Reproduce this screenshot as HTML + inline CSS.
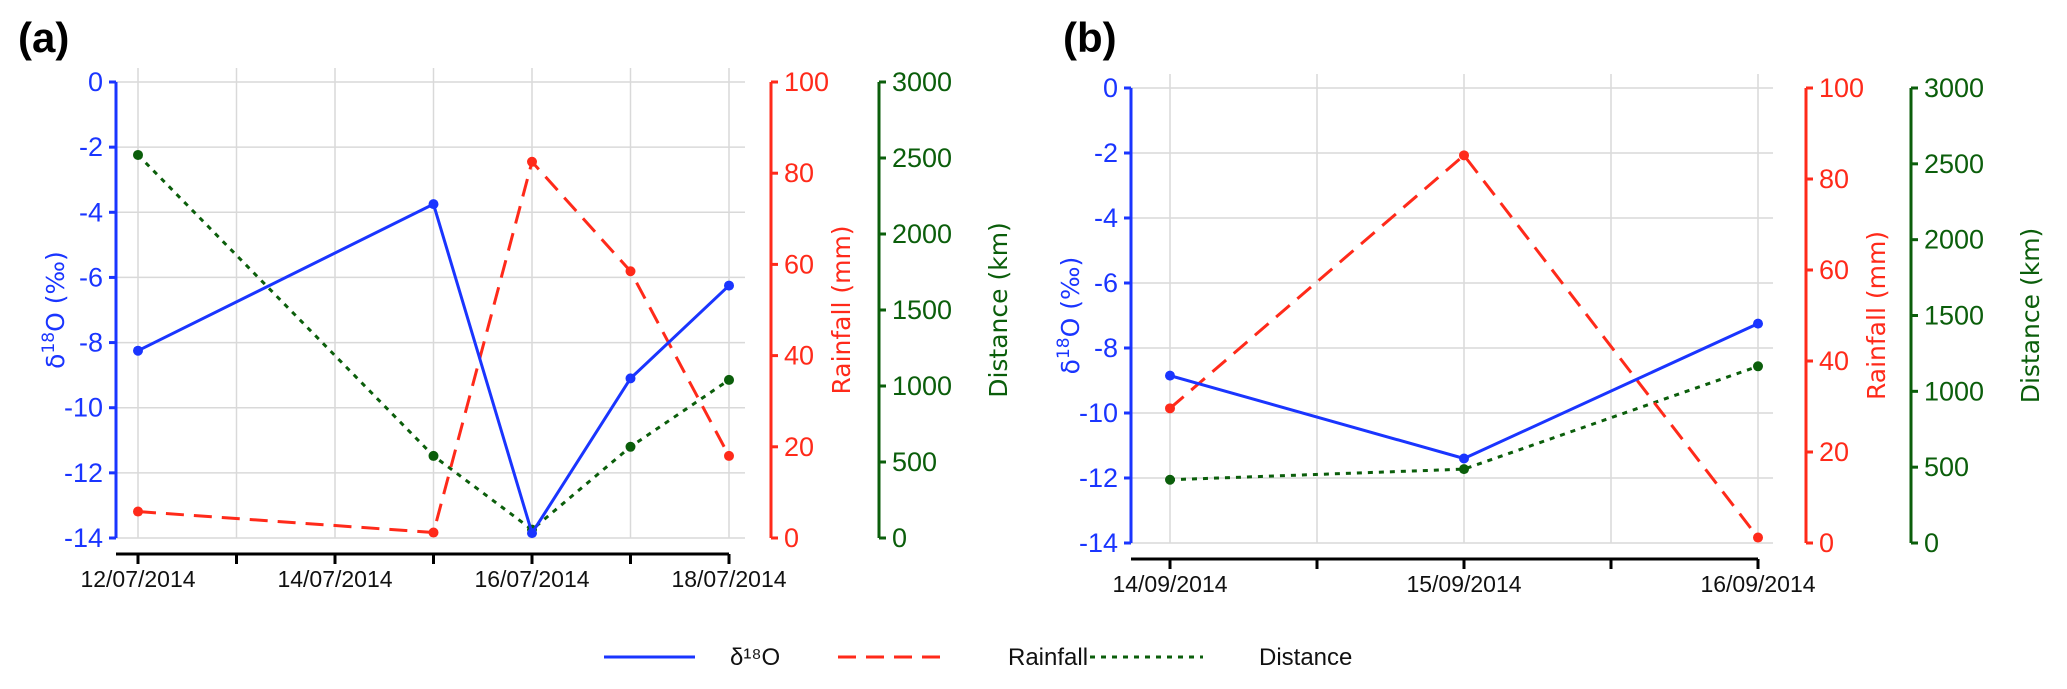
<!DOCTYPE html>
<html><head><meta charset="utf-8"><style>
body{margin:0;background:#fff;}
svg{display:block;font-family:"Liberation Sans",Arial,sans-serif;}
.tk{font-family:"Liberation Sans Narrow","Liberation Sans",sans-serif;}
.ti{font-family:"DejaVu Sans","Liberation Sans",sans-serif;}
</style></head><body>
<svg id="chart" width="2067" height="689" viewBox="0 0 2067 689" xmlns="http://www.w3.org/2000/svg"></svg>
<script>
// Panel (a) data
const datesA = [12, 15, 16, 17, 18];
const d18oA = [-8.25, -3.75, -13.85, -9.1, -6.25];
const rainA = [5.8, 1.2, 82.5, 58.5, 18];
const distA = [2520, 540, 55, 600, 1040];
const xTickLabelsA = ["12/07/2014", "14/07/2014", "16/07/2014", "18/07/2014"];
const xTickDaysA = [12, 14, 16, 18];
// Panel (b) data
const datesB = [14, 15, 16];
const d18oB = [-8.85, -11.4, -7.25];
const rainB = [29.6, 85.2, 1.2];
const distB = [417, 487, 1165];
const xTickLabelsB = ["14/09/2014", "15/09/2014", "16/09/2014"];
const xTickDaysB = [14, 15, 16];
// Axis ticks
const d18oTicks = [0, -2, -4, -6, -8, -10, -12, -14];
const rainTicks = [0, 20, 40, 60, 80, 100];
const distTicks = [0, 500, 1000, 1500, 2000, 2500, 3000];

const BLUE = "#1a35ff", RED = "#ff2a1a", GREEN = "#0b5e0b", GRID = "#d9d9d9";
const svg = document.getElementById('chart');
const NS = "http://www.w3.org/2000/svg";
function mk(tag, attrs, parent, text) {
  const e = document.createElementNS(NS, tag);
  for (const k in attrs) e.setAttribute(k, attrs[k]);
  if (text !== undefined) e.textContent = text;
  (parent || svg).appendChild(e);
  return e;
}

function panel(cfg) {
  const g = mk('g', {});
  
  
  const xs = d => cfg.xL + (d - cfg.dMin) / (cfg.dMax - cfg.dMin) * (cfg.xR - cfg.xL);
  const yB = v => cfg.yTop + (0 - v) / 14 * (cfg.yBot - cfg.yTop);
  const yR = v => cfg.yBot - v / 100 * (cfg.yBot - cfg.yTop);
  const yG = v => cfg.yBot - v / 3000 * (cfg.yBot - cfg.yTop);
  for (let d = cfg.dMin; d <= cfg.dMax + 1e-9; d += cfg.gridStep) {
    const l = mk('line', {x1: xs(d), x2: xs(d), y1: cfg.yTop - 14, y2: cfg.yBot, stroke: GRID, 'stroke-width': 1.5}, g);
    
    
  }
  d18oTicks.forEach(t => {
    const l = mk('line', {x1: cfg.axB, x2: cfg.gridR, y1: yB(t), y2: yB(t), stroke: GRID, 'stroke-width': 1.5}, g);
    
    
  });
  const ba = mk('line', {x1: cfg.axB, x2: cfg.axB, y1: cfg.yTop, y2: cfg.yBot, stroke: BLUE, 'stroke-width': 3}, g);
  
  
  d18oTicks.forEach(t => {
    mk('line', {x1: cfg.axB - 7, x2: cfg.axB, y1: yB(t), y2: yB(t), stroke: BLUE, 'stroke-width': 3}, g);
    const tx = mk('text', {class: 'tk', x: cfg.axB - 13, y: yB(t) + 9, 'text-anchor': 'end', 'font-size': 27, fill: BLUE}, g, String(t));
    
    
  });
  const bt = mk('text', {class: 'ti', transform: `translate(${cfg.axB - 52},${(cfg.yTop + cfg.yBot) / 2}) rotate(-90)`, 'text-anchor': 'middle', 'font-size': 25, fill: BLUE}, g);
  
  
  mk('tspan', {}, bt, 'δ');
  mk('tspan', {'font-size': 17, dy: -10}, bt, '18');
  mk('tspan', {dy: 10}, bt, 'O (‰)');
  const ra = mk('line', {x1: cfg.axR, x2: cfg.axR, y1: cfg.yTop, y2: cfg.yBot, stroke: RED, 'stroke-width': 3}, g);
  
  
  rainTicks.forEach(t => {
    mk('line', {x1: cfg.axR, x2: cfg.axR + 7, y1: yR(t), y2: yR(t), stroke: RED, 'stroke-width': 3}, g);
    const tx = mk('text', {class: 'tk', x: cfg.axR + 13, y: yR(t) + 9, 'font-size': 27, fill: RED}, g, String(t));
    
    
  });
  const rt = mk('text', {class: 'ti', transform: `translate(${cfg.axR + 79},${(cfg.yTop + cfg.yBot) / 2}) rotate(-90)`, 'text-anchor': 'middle', 'font-size': 25, fill: RED}, g, 'Rainfall (mm)');
  
  
  const ga = mk('line', {x1: cfg.axG, x2: cfg.axG, y1: cfg.yTop, y2: cfg.yBot, stroke: GREEN, 'stroke-width': 3}, g);
  
  
  distTicks.forEach(t => {
    mk('line', {x1: cfg.axG, x2: cfg.axG + 7, y1: yG(t), y2: yG(t), stroke: GREEN, 'stroke-width': 3}, g);
    const tx = mk('text', {class: 'tk', x: cfg.axG + 13, y: yG(t) + 9, 'font-size': 27, fill: GREEN}, g, String(t));
    
    
  });
  const gt = mk('text', {class: 'ti', transform: `translate(${cfg.axG + 128},${(cfg.yTop + cfg.yBot) / 2}) rotate(-90)`, 'text-anchor': 'middle', 'font-size': 25, fill: GREEN}, g, 'Distance (km)');
  
  
  const xa = mk('line', {x1: cfg.axB, x2: cfg.xR, y1: cfg.yAx, y2: cfg.yAx, stroke: '#000', 'stroke-width': 3}, g);
  
  
  for (let d = cfg.dMin; d <= cfg.dMax + 1e-9; d += cfg.gridStep) {
    mk('line', {x1: xs(d), x2: xs(d), y1: cfg.yAx, y2: cfg.yAx + 10, stroke: '#000', 'stroke-width': 3}, g);
  }
  cfg.tickDays.forEach((d, i) => {
    const tx = mk('text', {x: xs(d), y: cfg.yAx + 33, 'text-anchor': 'middle', 'font-size': 23, fill: '#111'}, g, cfg.tickLabels[i]);
    
    
  });
  function series(vals, yf, color, dash, name) {
    const pts = cfg.dates.map((d, i) => xs(d) + ',' + yf(vals[i])).join(' ');
    const pl = mk('polyline', {points: pts, fill: 'none', stroke: color, 'stroke-width': 3, 'stroke-dasharray': dash}, g);
    
    
    cfg.dates.forEach((d, i) => {
      const c = mk('circle', {cx: xs(d), cy: yf(vals[i]), r: 5, fill: color}, g);
      
      
    });
  }
  series(cfg.dist, yG, GREEN, '5,6', 'distance');
  series(cfg.rain, yR, RED, '18,10', 'rainfall');
  series(cfg.d18o, yB, BLUE, 'none', 'd18o');
  const pl = mk('text', {x: cfg.labX, y: 52, 'font-size': 42, 'font-weight': 'bold', fill: '#000'}, g, cfg.label);
  
  
}

panel({name: 'panel-a', label: '(a)', labX: 18, dates: datesA, d18o: d18oA, rain: rainA, dist: distA,
  tickDays: xTickDaysA, tickLabels: xTickLabelsA, dMin: 12, dMax: 18, gridStep: 1,
  xL: 138, xR: 729, yTop: 82, yBot: 538, yAx: 554, axB: 116, axR: 771, axG: 879, gridR: 745});
panel({name: 'panel-b', label: '(b)', labX: 1063, dates: datesB, d18o: d18oB, rain: rainB, dist: distB,
  tickDays: xTickDaysB, tickLabels: xTickLabelsB, dMin: 14, dMax: 16, gridStep: 0.5,
  xL: 1170, xR: 1758, yTop: 88, yBot: 543, yAx: 559, axB: 1131, axR: 1806, axG: 1911, gridR: 1773});

const lg = mk('g', {});


const legendItems = [
  {x1: 604, x2: 695, tx: 730, color: BLUE, dash: 'none', label: 'δ¹⁸O', name: 'legend-d18o'},
  {x1: 838, x2: 949, tx: 1008, color: RED, dash: '18,10', label: 'Rainfall', name: 'legend-rainfall'},
  {x1: 1090, x2: 1203, tx: 1259, color: GREEN, dash: '5,6', label: 'Distance', name: 'legend-distance'}
];
legendItems.forEach(it => {
  const e = mk('g', {}, lg);
  
  
  mk('line', {x1: it.x1, x2: it.x2, y1: 657, y2: 657, stroke: it.color, 'stroke-width': 3, 'stroke-dasharray': it.dash}, e);
  mk('text', {x: it.tx, y: 665, 'font-size': 24, fill: '#111'}, e, it.label);
});
</script>
</body></html>
